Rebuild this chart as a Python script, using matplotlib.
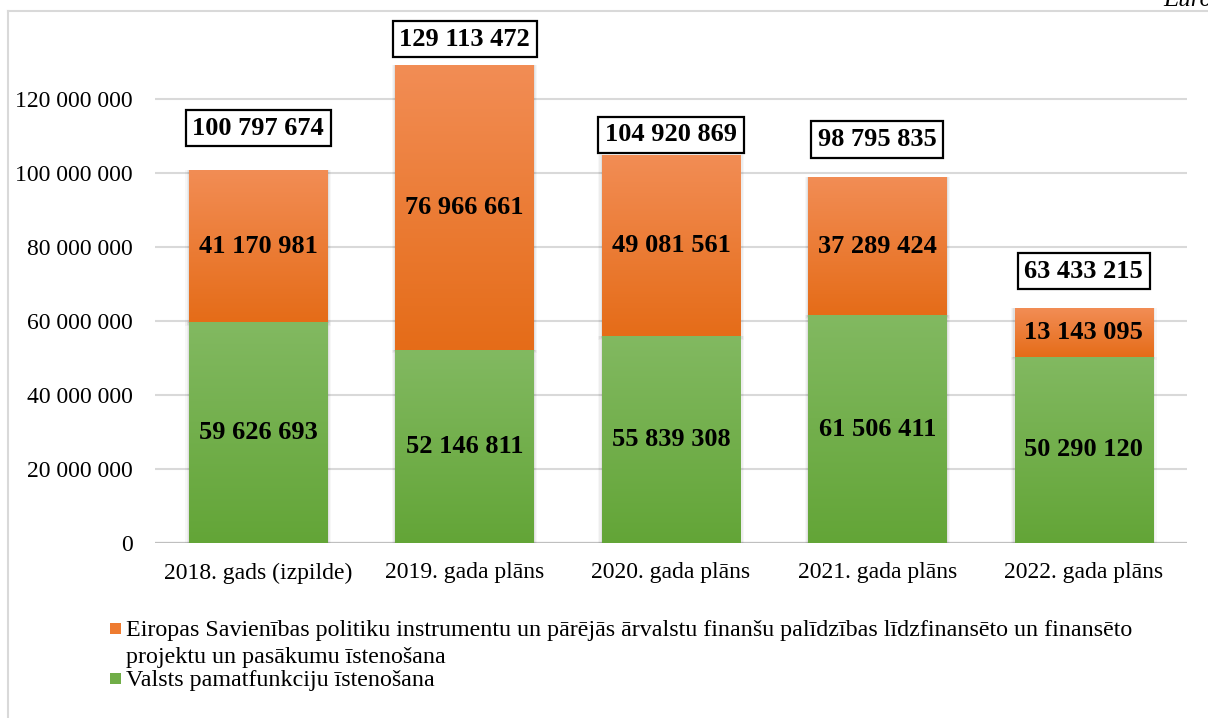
import numpy as np
import matplotlib
matplotlib.use("Agg")
import matplotlib.pyplot as plt
from matplotlib.patches import Rectangle
from matplotlib.colors import LinearSegmentedColormap
from matplotlib.lines import Line2D

categories = ["2018. gads (izpilde)", "2019. gada plāns", "2020. gada plāns",
              "2021. gada plāns", "2022. gada plāns"]
state_funcs = [59626693, 52146811, 55839308, 61506411, 50290120]
eu_funds = [41170981, 76966661, 49081561, 37289424, 13143095]
totals = [100797674, 129113472, 104920869, 98795835, 63433215]
yticks = [0, 20000000, 40000000, 60000000, 80000000, 100000000, 120000000]
legend_labels = ["Eiropas Savienības politiku instrumentu un pārējās ārvalstu finanšu palīdzības līdzfinansēto un finansēto\nprojektu un pasākumu īstenošana",
                 "Valsts pamatfunkciju īstenošana"]
unit_label = "Euro"

total_offsets_px = [42, 26, 20, 38, 37]

def fmt(v):
    return f"{v:,}".replace(",", " ")

plt.rcParams['font.family'] = ['Liberation Serif', 'DejaVu Serif']

fig = plt.figure(figsize=(12.08, 7.18), dpi=100)
ax = fig.add_axes([155/1208, 1 - 543/718, 1032/1208, (543 - 25)/718])

orange_cmap = LinearSegmentedColormap.from_list("o", ["#E56C18", "#F28D55"])
green_cmap = LinearSegmentedColormap.from_list("g", ["#63A537", "#82B961"])

x = np.arange(len(categories))
width = 0.67
grad = np.linspace(0, 1, 256).reshape(-1, 1)

def grad_bar(xc, bottom, height, cmap):
    # soft shadow
    for i, a in enumerate([0.05, 0.04, 0.03]):
        d = 0.006 * (i + 1)
        sh = Rectangle((xc - width/2 - d, bottom - 300000*(i+1)), width + 2*d, height + 300000*(i+1),
                       facecolor='black', edgecolor='none', alpha=a, zorder=2)
        ax.add_patch(sh)
    bars = ax.bar([xc], [height], bottom=[bottom], width=width, color='none',
                  edgecolor='none', zorder=3)
    rect = bars.patches[0]
    im = ax.imshow(grad, cmap=cmap, origin='lower', aspect='auto',
                   extent=[xc - width/2, xc + width/2, bottom, bottom + height], zorder=3)
    im.set_clip_path(rect)

for i in range(len(categories)):
    grad_bar(x[i], 0, state_funcs[i], green_cmap)
    grad_bar(x[i], state_funcs[i], eu_funds[i], orange_cmap)
    ax.text(x[i], state_funcs[i] / 2, fmt(state_funcs[i]), ha='center', va='center',
            fontsize=19, fontweight='bold', zorder=5)
    ax.text(x[i], state_funcs[i] + eu_funds[i] / 2, fmt(eu_funds[i]), ha='center', va='center',
            fontsize=19, fontweight='bold', zorder=5)
    ax.annotate(fmt(totals[i]), xy=(x[i], totals[i]), xytext=(0, total_offsets_px[i]),
                textcoords='offset pixels', ha='center', va='center', fontsize=19,
                fontweight='bold', zorder=6,
                bbox=dict(boxstyle='square,pad=0.25', facecolor='white', edgecolor='black', linewidth=1.6))

ax.set_xlim(-0.5, len(categories) - 0.5)
ax.set_ylim(0, 140000000)
ax.set_yticks(yticks)
ax.set_yticklabels([fmt(v) for v in yticks], fontsize=17)
ax.set_xticks(x)
ax.set_xticklabels(categories, fontsize=17)
ax.tick_params(axis='both', length=0)
ax.tick_params(axis='y', pad=16)
ax.tick_params(axis='x', pad=14)
for s in ax.spines.values():
    s.set_visible(False)
ax.grid(axis='y', color='#D9D9D9', linewidth=1.5, zorder=0)
ax.set_axisbelow(True)
ax.axhline(0, color='#BFBFBF', linewidth=1.6, zorder=1)
ax.patch.set_alpha(0)

# outer frame (partially cut)
fig.add_artist(Line2D([8/1208, 8/1208], [0, 1 - 11/718], color='#D9D9D9', linewidth=1.5))
fig.add_artist(Line2D([8/1208, 1], [1 - 11/718, 1 - 11/718], color='#D9D9D9', linewidth=1.5))

fig.text(1163/1208, 1 - 6/718, unit_label, fontsize=18, style='italic', ha='left', va='baseline')

# legend
leg_colors = ['#EE7B30', '#70AD47']
leg_y = [628, 678]
for lab, c, yy in zip(legend_labels, leg_colors, leg_y):
    fig.add_artist(Rectangle((110/1208, 1 - (yy + 6)/718), 11/1208, 11/718,
                             facecolor=c, edgecolor='none', transform=fig.transFigure))
    fig.text(126/1208, 1 - (yy - 8)/718, lab, fontsize=17.3, ha='left', va='top', linespacing=1.4)

fig.savefig("out.png", dpi=100)
